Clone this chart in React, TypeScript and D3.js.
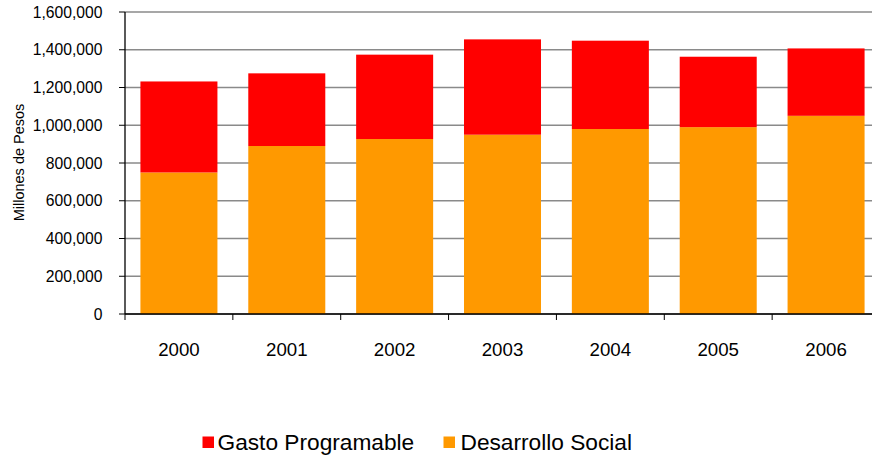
import React from "react";
import * as d3 from "d3";

const years = ["2000", "2001", "2002", "2003", "2004", "2005", "2006"];
const gastoProgramable = [1232000, 1275000, 1374000, 1455000, 1448000, 1363000, 1407000];
const desarrolloSocial = [750000, 890000, 927000, 950000, 980000, 990000, 1050000];
const yTicks = [0, 200000, 400000, 600000, 800000, 1000000, 1200000, 1400000, 1600000];

const W = 872;
const H = 457;
const left = 125;
const right = 880;
const top = 12;
const bottom = 314;
const FONT = "'Liberation Sans', Arial, Helvetica, sans-serif";

export default function App() {
  const x = d3.scaleBand<string>().domain(years).range([left, right]).paddingInner(0).paddingOuter(0);
  const y = d3.scaleLinear().domain([0, 1600000]).range([bottom, top]);
  const rows = years.map((yr, i) => ({
    year: yr,
    social: desarrolloSocial[i],
    rest: gastoProgramable[i] - desarrolloSocial[i],
  }));
  const stack = d3.stack<any>().keys(["social", "rest"]);
  const series = stack(rows);
  const colors: Record<string, string> = { social: "#FF9900", rest: "#FF0000" };
  const bw = x.bandwidth() * 0.714;
  const fmt = d3.format(",");
  const boundaries = years.map((yr) => x(yr) as number).concat([right]);

  return (
    <svg
      width={W}
      height={H}
      style={{ position: "absolute", left: 0, top: 0, background: "#fff" }}
      fontFamily={FONT}
    >
      {yTicks.map((t) => (
        <line key={"g" + t} x1={left} x2={right} y1={y(t)} y2={y(t)} stroke="#8a8a8a" strokeWidth={1.3} />
      ))}
      {series.map((s) => (
        <g key={s.key} fill={colors[s.key]}>
          {s.map((d, i) => (
            <rect
              key={i}
              x={(x(years[i]) as number) + (x.bandwidth() - bw) / 2}
              width={bw}
              y={y(d[1])}
              height={y(d[0]) - y(d[1])}
            />
          ))}
        </g>
      ))}
      <line x1={left} x2={left} y1={top} y2={bottom} stroke="#000" strokeWidth={1.3} />
      <line x1={left} x2={right} y1={bottom} y2={bottom} stroke="#000" strokeWidth={1.3} />
      {yTicks.map((t) => (
        <g key={"t" + t}>
          <line x1={119} x2={left} y1={y(t)} y2={y(t)} stroke="#000" strokeWidth={1} />
          <text x={102.5} y={y(t)} dy="0.36em" textAnchor="end" fontSize={15.7} fill="#000">
            {fmt(t)}
          </text>
        </g>
      ))}
      {boundaries.map((bx, i) => (
        <line key={"b" + i} x1={bx} x2={bx} y1={bottom} y2={bottom + 6} stroke="#000" strokeWidth={1} />
      ))}
      {years.map((yr) => (
        <text
          key={"y" + yr}
          x={(x(yr) as number) + x.bandwidth() / 2}
          y={355.5}
          textAnchor="middle"
          fontSize={18.7}
          fill="#000"
        >
          {yr}
        </text>
      ))}
      <text
        transform="translate(24,162.5) rotate(-90)"
        textAnchor="middle"
        fontSize={14.5}
        fill="#000"
      >
        Millones de Pesos
      </text>
      <rect x={202.5} y={436.5} width={11.5} height={11.5} fill="#FF0000" />
      <text x={217.5} y={450} fontSize={22.7} fill="#000">
        Gasto Programable
      </text>
      <rect x={443.5} y={436.5} width={11.5} height={11.5} fill="#FF9900" />
      <text x={460.5} y={450} fontSize={22.7} fill="#000">
        Desarrollo Social
      </text>
    </svg>
  );
}
